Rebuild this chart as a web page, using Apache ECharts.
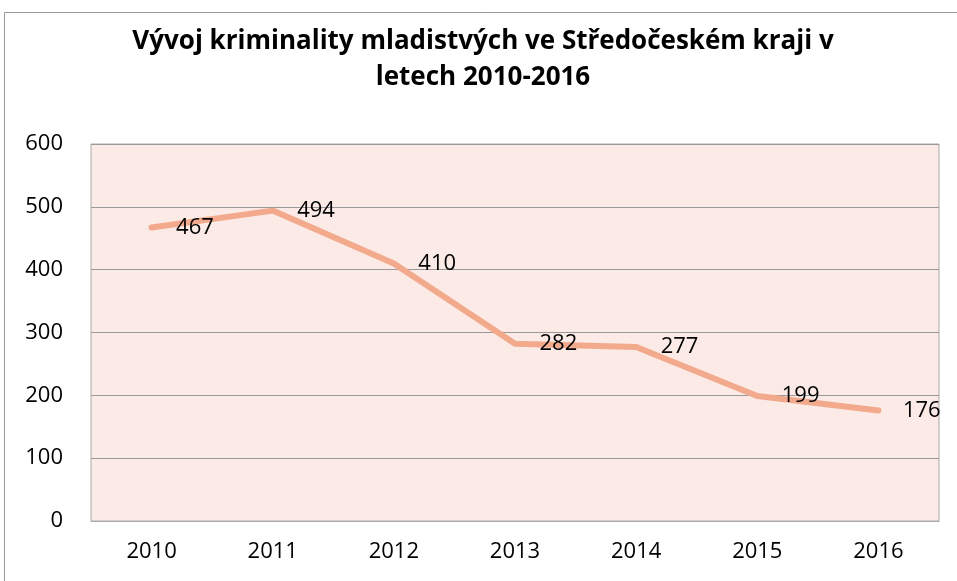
<!DOCTYPE html>
<html>
<head>
<meta charset="utf-8">
<script src="https://cdn.jsdelivr.net/npm/echarts@6/dist/echarts.min.js"></script>
<style>
html, body { margin: 0; padding: 0; background: #fff; }
#chart { width: 957px; height: 581px; }
</style>
</head>
<body>
<div id="chart"></div>
<script>
// data
const years = ['2010', '2011', '2012', '2013', '2014', '2015', '2016'];
const cases = [467, 494, 410, 282, 277, 199, 176];
const yTicks = [0, 100, 200, 300, 400, 500, 600];

const lineColor = '#F2A98C';

const chart = echarts.init(document.getElementById('chart'));

const option = {
    backgroundColor: '#fff',
    animation: false,
    title: {
        text: 'Vývoj kriminality mladistvých ve Středočeském kraji v\nletech 2010-2016',
        left: 478,
        textAlign: 'center',
        top: 19,
        textStyle: {
            fontFamily: 'Open Sans',
            fontWeight: 'bold',
            fontSize: 26,
            lineHeight: 36,
            color: '#000'
        }
    },
    graphic: [{
        type: 'rect',
        shape: { x: 4.5, y: 12.5, width: 960, height: 600 },
        style: { fill: 'none', stroke: '#999', lineWidth: 1 },
        silent: true
    }],
    grid: {
        left: 91,
        right: 18,
        top: 144,
        bottom: 60,
        show: true,
        backgroundColor: '#FBEAE5',
        borderColor: '#aaa',
        borderWidth: 1
    },
    xAxis: {
        type: 'category',
        data: years,
        boundaryGap: true,
        axisLine: { show: true, lineStyle: { color: '#aaa', width: 1 } },
        axisTick: { show: false },
        axisLabel: {
            color: '#000',
            fontFamily: 'Open Sans',
            fontSize: 22,
            margin: 20
        }
    },
    yAxis: {
        type: 'value',
        min: yTicks[0],
        max: yTicks[yTicks.length - 1],
        interval: 100,
        axisLine: { show: false },
        axisTick: { show: false },
        splitLine: { lineStyle: { color: '#999', width: 1 } },
        axisLabel: {
            color: '#000',
            fontFamily: 'Open Sans',
            fontSize: 22,
            margin: 28
        }
    },
    series: [{
        type: 'line',
        data: cases,
        symbol: 'circle',
        symbolSize: 5,
        showSymbol: true,
        itemStyle: { color: lineColor },
        lineStyle: { color: lineColor, width: 6, cap: 'round' },
        label: {
            show: true,
            position: 'right',
            distance: 22,
            color: '#000',
            fontFamily: 'Open Sans',
            fontSize: 22
        }
    }]
};

chart.setOption(option);
</script>
</body>
</html>
